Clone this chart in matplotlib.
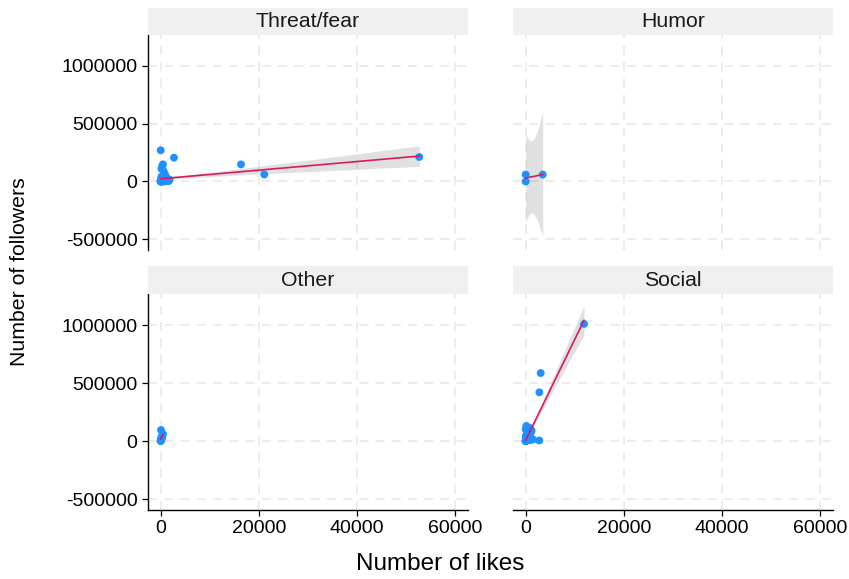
import math
import numpy as np
import matplotlib
matplotlib.use("Agg")
import matplotlib.pyplot as plt

plt.rcParams['font.family'] = ['Liberation Sans', 'DejaVu Sans']

# ---------------- data ----------------
panels = ["Threat/fear", "Humor", "Other", "Social"]

threat_likes = [52720, 21120, 16370, 2710, 0, 470, 300, 150, 600, 1550,
                900, 200, 100, 50, 0, 0, 0, 10, 20, 30,
                40, 60, 80, 120, 180, 250, 350, 400, 500, 550,
                650, 700, 750, 800, 850, 950, 1000, 1100, 1200, 1300,
                1400, 1600, 1700, 1800, 5, 15, 25, 35, 45, 70,
                90, 110, 130, 160, 220, 280, 320, 380, 420, 480,
                520, 580, 620, 680, 720]
threat_followers = [212000, 61000, 148000, 206000, 270000, 148000, 135000, 110000, 90000, 20000,
                    60000, 45000, 30000, 5000, 0, 2000, 8000, 1000, 3000, 12000,
                    500, 4000, 15000, 6000, 2500, 9000, 18000, 7000, 25000, 3000,
                    1500, 10000, 40000, 4500, 12000, 2000, 22000, 8000, 30000, 5000,
                    14000, 3500, 9000, 16000, 200, 800, 3000, 1200, 6000, 2000,
                    11000, 700, 4000, 1800, 26000, 3000, 7500, 1000, 13000, 2500,
                    5500, 900, 35000, 4200, 19000]

humor_likes = [0, 0, 3470]
humor_followers = [0, 60000, 60000]

other_likes = [0, 0, 0, 30, 60, 100, 200, 300, 470]
other_followers = [0, 2000, 8000, 20000, 96000, 10000, 40000, 30000, 61000]

social_likes = [11890, 3060, 2780, 0, 740, 130, 2780, 1490, 880,
                0, 50, 100, 200, 300, 400, 600, 1000, 0, 20,
                10, 30, 40, 60, 80, 90, 120, 150, 170, 190,
                220, 250, 280, 320, 350, 380, 420, 450, 480, 500,
                550, 650, 700, 800, 900, 950, 1100, 1200, 5, 15,
                25, 35, 70, 110, 160]
social_followers = [1010000, 587000, 421000, 102000, 116000, 131000, 6000, 15000, 8000,
                    0, 20000, 50000, 30000, 80000, 10000, 60000, 100000, 5000, 40000,
                    2000, 8000, 15000, 4000, 25000, 12000, 30000, 6000, 18000, 9000,
                    22000, 35000, 14000, 28000, 40000, 20000, 45000, 33000, 26000, 50000,
                    38000, 55000, 48000, 60000, 70000, 65000, 85000, 90000, 1000, 3000,
                    7000, 11000, 16000, 24000, 10000]

data = {
    "Threat/fear": (threat_likes, threat_followers),
    "Humor": (humor_likes, humor_followers),
    "Other": (other_likes, other_followers),
    "Social": (social_likes, social_followers),
}

x_ticks = [0, 20000, 40000, 60000]
y_ticks = [-500000, 0, 500000, 1000000]
x_label = "Number of likes"
y_label = "Number of followers"

# ---------------- helpers ----------------
def t975(df):
    c = math.exp(math.lgamma((df + 1) / 2) - math.lgamma(df / 2)) / math.sqrt(df * math.pi)
    g = np.linspace(0, 60, 600001)
    pdf = c * (1 + g ** 2 / df) ** (-(df + 1) / 2)
    cdf = np.concatenate([[0], np.cumsum((pdf[1:] + pdf[:-1]) / 2 * np.diff(g))])
    return float(np.interp(0.475, cdf, g))

def lm_ci(x, y):
    x = np.asarray(x, float)
    y = np.asarray(y, float)
    n = len(x)
    xm, ym = x.mean(), y.mean()
    sxx = ((x - xm) ** 2).sum()
    b = ((x - xm) * (y - ym)).sum() / sxx
    a = ym - b * xm
    res = y - (a + b * x)
    s = math.sqrt((res ** 2).sum() / (n - 2))
    xs = np.linspace(x.min(), x.max(), 80)
    fit = a + b * xs
    se = s * np.sqrt(1 / n + (xs - xm) ** 2 / sxx)
    t = t975(n - 2)
    return xs, fit, fit - t * se, fit + t * se

# ---------------- figure ----------------
W, H = 849, 579
fig = plt.figure(figsize=(W / 100, H / 100), dpi=100)

lefts = {0: 148, 1: 513}
tops = {0: (35, 250), 1: (294, 510)}
strip_px = {0: (8, 35), 1: (266, 294)}
pw = 320

xlim = (-2590, 62650)
ylim = (-593000, 1268000)

for idx, name in enumerate(panels):
    r, c = divmod(idx, 2)
    x0 = lefts[c]
    y_top, y_bot = tops[r]
    ax = fig.add_axes([x0 / W, (H - y_bot) / H, pw / W, (y_bot - y_top) / H])
    st, sb = strip_px[r]
    sax = fig.add_axes([x0 / W, (H - sb) / H, pw / W, (sb - st) / H])
    sax.set_facecolor("#F0F0F0")
    for sp in sax.spines.values():
        sp.set_visible(False)
    sax.set_xticks([])
    sax.set_yticks([])
    sax.text(0.5, 0.5, name, ha="center", va="center", fontsize=15.3,
             color="#1a1a1a", transform=sax.transAxes)

    ax.set_xlim(*xlim)
    ax.set_ylim(*ylim)
    ax.set_xticks(x_ticks)
    ax.set_yticks(y_ticks)
    ax.grid(True, color="#EBEBEB", linestyle=(0, (5, 4)), linewidth=1.3)
    ax.set_axisbelow(True)
    for sp in ["top", "right"]:
        ax.spines[sp].set_visible(False)
    ax.spines["left"].set_visible(c == 0)
    ax.spines["bottom"].set_visible(r == 1)
    ax.spines["left"].set_linewidth(1.0)
    ax.spines["bottom"].set_linewidth(1.0)
    ax.tick_params(axis="y", left=(c == 0), labelleft=(c == 0), labelsize=14,
                   length=4, width=0.9, colors="black")
    ax.tick_params(axis="x", bottom=(r == 1), labelbottom=(r == 1), labelsize=14,
                   length=4, width=0.9, colors="black")
    ax.yaxis.set_major_formatter(matplotlib.ticker.FuncFormatter(lambda v, p: "%d" % v))
    ax.xaxis.set_major_formatter(matplotlib.ticker.FuncFormatter(lambda v, p: "%d" % v))

    xv, yv = data[name]
    ax.scatter(xv, yv, s=32, color="#1E90FF", edgecolors="none", zorder=3)
    xs, fit, lo, hi = lm_ci(xv, yv)
    ax.fill_between(xs, lo, hi, color="#999999", alpha=0.3, linewidth=0, zorder=2)
    ax.plot(xs, fit, color="#D81B60", linewidth=1.2, zorder=4)

fig.text(440 / W, (H - 564) / H, x_label, ha="center", va="center", fontsize=17.5)
fig.text(20 / W, (H - 272) / H, y_label, ha="center", va="center", fontsize=15.3,
         rotation=90)

fig.savefig("out.png", dpi=100)
